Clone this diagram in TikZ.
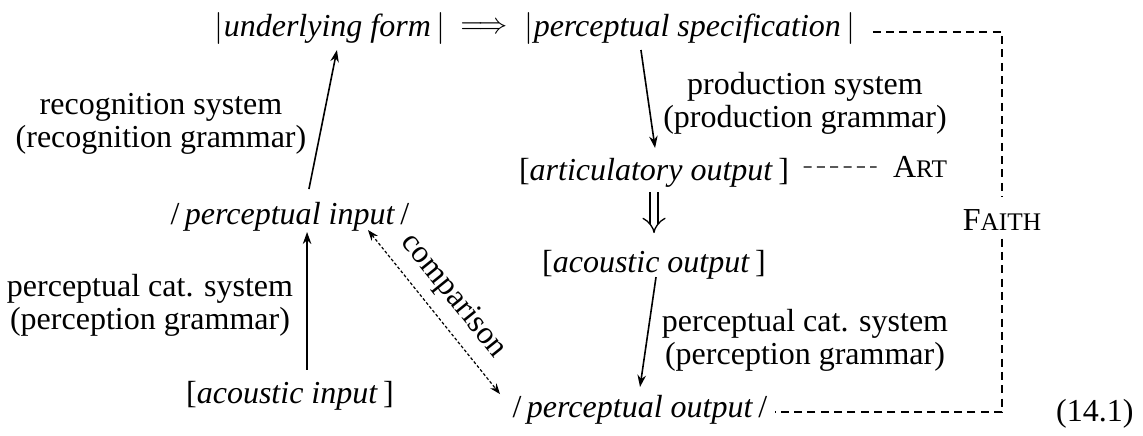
\documentclass[tikz,border=0pt]{standalone}
\usepackage{fontspec}
\setmainfont{Liberation Serif}
\usepackage{tikz}
\usetikzlibrary{arrows.meta, calc}

% fake small capitals
\newcommand{\smc}[2]{#1{\fontsize{9.5}{9.5}\selectfont #2}}

\begin{document}
\begin{tikzpicture}[x=0.375pt, y=-0.375pt,
  font=\fontsize{12}{12.4}\selectfont,
  every node/.style={inner sep=0pt},
  txt/.style={anchor=base},
  lab/.style={align=center},
  arr/.style={-{Stealth[length=4.5pt, width=3.2pt]}, line width=0.6pt},
  cmp/.style={{Stealth[length=4pt, width=3pt]}-{Stealth[length=4pt, width=3pt]}, line width=0.45pt, dash pattern=on 1.1pt off 0.8pt},
  dbl/.style={double, double distance=2.6pt, line width=0.5pt, -{Implies}},
  con/.style={line width=0.5pt, dash pattern=on 3pt off 2pt}]

\useasboundingbox (0,0) rectangle (1143,435);

% representations
\node[txt] (uf) at (330,36) {$|$\textit{underlying form}\,$|$};
\node[txt, font=\fontsize{11}{11}\selectfont] (impl) at (484,33) {$\Longrightarrow$};
\node[txt] (ps) at (690,36) {$|$\textit{perceptual specification}\,$|$};
\node[txt] (pin) at (290,224) {/\,\textit{perceptual input}\,/};
\node[txt] (ain) at (290,403) {[\textit{acoustic input}\,]};
\node[txt] (ao) at (654,180) {[\textit{articulatory output}\,]};
\node[txt] (aco) at (654,272) {[\textit{acoustic output}\,]};
\node[txt] (pout) at (640,417) {/\,\textit{perceptual output}\,/};

% grammars
\node[lab] (lrec) at (161,124) {recognition system\\(recognition grammar)};
\node[lab] (lpcl) at (150,305) {perceptual cat. system\\(perception grammar)};
\node[lab] (lprod) at (805,103) {production system\\(production grammar)};
\node[lab] (lpcr) at (805,340) {perceptual cat. system\\(perception grammar)};

% constraints
\node[txt] (art) at (920,177) {\smc{A}{RT}};
\node[txt] (faith) at (1002,230) {\smc{F}{AITH}};
\node[anchor=base east] (eqn) at (1134,421) {(14.1)};

\draw[arr] ([xshift=7.1pt, yshift=13.1pt]pin.base) -- ([xshift=2.6pt, yshift=-5.25pt]uf.base);
\draw[arr] ([xshift=6.4pt, yshift=12.4pt]ain.base) -- ([xshift=6.4pt, yshift=-3pt]pin.base);
\draw[arr] ([xshift=-18.4pt, yshift=-5.25pt]ps.base) -- ([xshift=0.4pt, yshift=12pt]ao.base);
\draw[dbl] ([yshift=-4.5pt]ao.base) -- ([yshift=14.6pt]aco.base);
\draw[arr] ([xshift=0.75pt, yshift=-1.9pt]aco.base) -- ([yshift=11.25pt]pout.base);
\draw[cmp] ([xshift=29.25pt, yshift=-2.25pt]pin.base)
  -- node[sloped, above=3.8pt] {comparison} ([xshift=-52.5pt, yshift=8.6pt]pout.base);

\draw[con] ([xshift=6.4pt, yshift=1.5pt]ps.base east) -| ([yshift=4.5pt]faith.north);
\draw[con] ([yshift=-3pt]faith.south) |- ([xshift=2.6pt, yshift=1.9pt]pout.base east);
\draw[con] ([xshift=5.25pt, yshift=4.9pt]ao.base east) -- ([xshift=-6pt, yshift=3.75pt]art.base west);

\end{tikzpicture}
\end{document}
